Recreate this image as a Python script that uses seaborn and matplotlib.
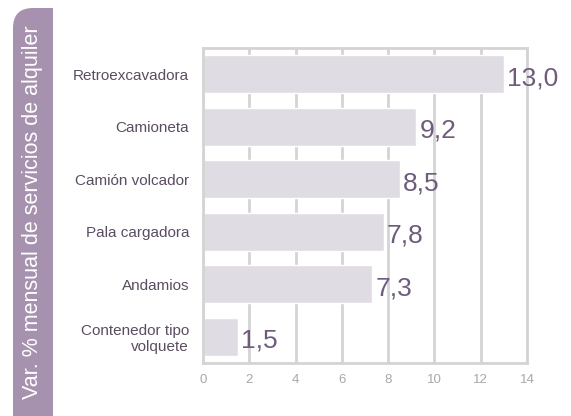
import numpy as np
import pandas as pd
import seaborn as sns
import matplotlib.pyplot as plt
from matplotlib.patches import FancyBboxPatch, Rectangle

# Data
categories = ["Retroexcavadora", "Camioneta", "Camión volcador", "Pala cargadora",
              "Andamios", "Contenedor tipo\nvolquete"]
values = [13.0, 9.2, 8.5, 7.8, 7.3, 1.5]
x_ticks = [0, 2, 4, 6, 8, 10, 12, 14]
side_title = "Var. % mensual de servicios de alquiler"

bar_col = "#e0dce3"
label_col = "#6f5c7c"
grid_col = "#d4d4d4"
side_col = "#a692ae"

df = pd.DataFrame({"cat": categories, "val": values})

sns.set_style("white")
plt.rcParams['font.family'] = ['Liberation Sans', 'DejaVu Sans']

fig = plt.figure(figsize=(5.71, 4.16), dpi=100)
ax = fig.add_axes([203 / 571, 1 - 363 / 416, 324 / 571, 315 / 416])

ax.set_axisbelow(True)
ax.grid(axis="x", color=grid_col, linewidth=2)
sns.barplot(data=df, x="val", y="cat", orient="h", color=bar_col, width=0.72,
            saturation=1, ax=ax)

# value labels
for i, v in enumerate(values):
    ax.text(v + 0.15, i + 0.08, f"{v:.1f}".replace(".", ","), color=label_col,
            fontsize=19, va="center", ha="left")

ax.set_xlim(0, 14)
ax.set_ylim(5.5, -0.5)
ax.set_xticks(x_ticks)
ax.tick_params(axis="x", colors="#a8a8a8", labelsize=9.5, length=0, pad=8)
ax.tick_params(axis="y", colors="#5b4d61", labelsize=11, length=0, pad=10)
ax.set_xlabel("")
ax.set_ylabel("")
for s in ax.spines.values():
    s.set_color(grid_col)
    s.set_linewidth(2)

# side band (top-left corner rounded) with rotated title
band = FancyBboxPatch((13 / 571, -0.1), 40 / 571, (416 - 8) / 416 + 0.1,
                      boxstyle="round,pad=0,rounding_size=0.035",
                      transform=fig.transFigure, facecolor=side_col,
                      edgecolor="none", mutation_aspect=571 / 416)
fig.patches.append(band)
fig.patches.append(Rectangle((33 / 571, 0), 20 / 571, (416 - 8) / 416,
                             transform=fig.transFigure, facecolor=side_col,
                             edgecolor="none"))
fig.text(33 / 571, 1 - 212 / 416, side_title, rotation=90, color="white",
         fontsize=15.5, ha="center", va="center")

fig.savefig("out.png", dpi=100)
